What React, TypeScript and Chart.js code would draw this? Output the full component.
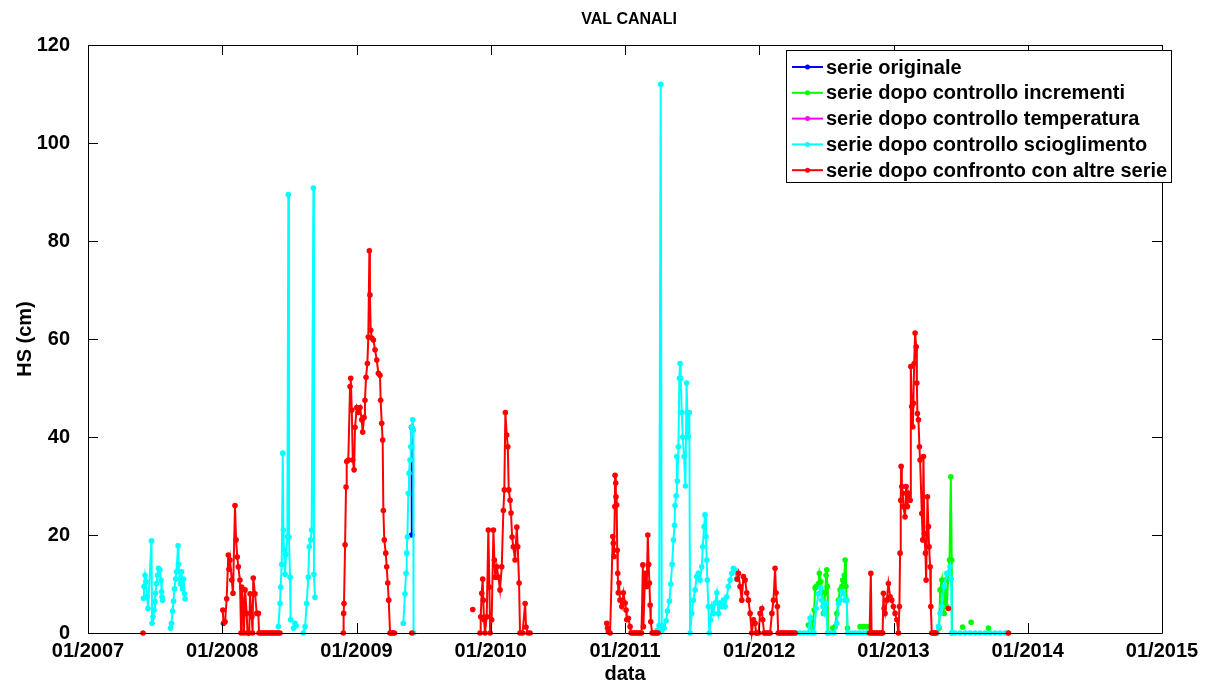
import React, { useEffect, useRef } from "react";
import { Chart, registerables } from "chart.js";

Chart.register(...registerables);

const chartTitle = "VAL CANALI";
const xAxisTitle = "data";
const yAxisTitle = "HS (cm)";
const xTickYears = [2007, 2008, 2009, 2010, 2011, 2012, 2013, 2014, 2015];
const yTickValues = [0, 20, 40, 60, 80, 100, 120];
const seriesNames = [
  "serie originale",
  "serie dopo controllo incrementi",
  "serie dopo controllo temperatura",
  "serie dopo controllo scioglimento",
  "serie dopo confronto con altre serie",
];
const seriesColors = ["#0000ff", "#00ff00", "#ff00ff", "#00ffff", "#ff0000"];

// serie originale (visible only where not covered)
const blueDates = [2009.41, 2009.412];
const blueHS: (number | null)[] = [42, 20];

// serie dopo controllo incrementi
const greenDates = [
  2012.366, 2012.384, 2012.395, 2012.409, 2012.416, 2012.424, 2012.441, 2012.448, 2012.459, 2012.466,
  2012.474, 2012.478, 2012.483, 2012.491, 2012.498, 2012.503, 2012.508, 2012.511, 2012.53,
  2012.548, 2012.565, 2012.578, 2012.59, 2012.602, 2012.615, 2012.622, 2012.628, 2012.634, 2012.64,
  2012.646, 2012.652, 2012.657, 2012.7,
  2012.751, 2012.776, 2012.801, 2013.0,
  2013.34, 2013.347, 2013.36, 2013.367, 2013.377, 2013.385, 2013.397, 2013.409, 2013.417, 2013.427,
  2013.434, 2013.436, 2013.48, 2013.515, 2013.55, 2013.578, 2013.65, 2013.707,
];
const greenHS: (number | null)[] = [
  1.6, 3, 1, 4.7, 9.2, 9.5, 10.1, 12.2, 10.5, 8.4,
  6.7, 4, 6, 8.2, 11.8, 12.9, 9.5, 0, null,
  1, 1.3, 4, 6.7, 8.8, 9.5, 10.8, 10.5, 11.8, 14.9,
  9.5, 6.7, 1, null,
  1.3, 1.3, 1.3, null,
  1, 8.8, 10.8, 6, 4, 10.8, 5.4, 12.2, 14.9, 31.9,
  14.9, 0, null, 1.2, null, 2.2, null, 1,
];

// serie dopo controllo temperatura (fully covered)
const magentaDates: number[] = [];
const magentaHS: (number | null)[] = [];

// serie dopo controllo scioglimento
const cyanDates = [
  2007.413, 2007.417, 2007.425, 2007.432, 2007.44, 2007.447, 2007.473, 2007.477, 2007.484, 2007.492,
  2007.499, 2007.503, 2007.51, 2007.518, 2007.525, 2007.536, 2007.544, 2007.548, 2007.551, 2007.555,
  2007.585,
  2007.615, 2007.622, 2007.63, 2007.637, 2007.644, 2007.652, 2007.659, 2007.671, 2007.674, 2007.682,
  2007.689, 2007.697, 2007.704, 2007.712, 2007.719, 2007.723, 2008.0,
  2008.418, 2008.43, 2008.435, 2008.443, 2008.451, 2008.455, 2008.46, 2008.468, 2008.475, 2008.485,
  2008.492, 2008.497, 2008.505, 2008.509, 2008.52, 2008.531, 2008.542, 2008.55, 2008.58,
  2008.604, 2008.617, 2008.629, 2008.641, 2008.648, 2008.659, 2008.666, 2008.679, 2008.683, 2008.691,
  2009.0,
  2009.349, 2009.361, 2009.369, 2009.374, 2009.379, 2009.386, 2009.391, 2009.399, 2009.404, 2009.411,
  2009.419, 2009.423, 2009.425, 2010.5,
  2011.239, 2011.254, 2011.266, 2011.274, 2011.284, 2011.291, 2011.306, 2011.316, 2011.331, 2011.341,
  2011.351, 2011.361, 2011.369, 2011.373, 2011.381, 2011.386, 2011.39, 2011.398, 2011.405, 2011.41,
  2011.415, 2011.423, 2011.43, 2011.44, 2011.45, 2011.459, 2011.464, 2011.471, 2011.479, 2011.485,
  2011.497, 2011.509, 2011.522, 2011.534, 2011.546, 2011.559, 2011.572, 2011.579, 2011.589, 2011.596,
  2011.603, 2011.609, 2011.613, 2011.621, 2011.628, 2011.638, 2011.646, 2011.658, 2011.671, 2011.684,
  2011.696, 2011.708, 2011.721, 2011.733, 2011.746, 2011.758, 2011.77, 2011.783, 2011.795, 2011.807,
  2011.82, 2011.831, 2012.0,
  2012.275, 2012.304, 2012.334, 2012.364, 2012.379, 2012.394, 2012.409, 2012.424, 2012.441, 2012.459,
  2012.466, 2012.474, 2012.487, 2012.498, 2012.509, 2012.528, 2012.558, 2012.578, 2012.59, 2012.602,
  2012.617, 2012.628, 2012.64, 2012.652, 2012.658, 2012.684, 2012.714, 2012.744, 2012.774, 2012.804,
  2012.826, 2013.0,
  2013.325, 2013.335, 2013.347, 2013.36, 2013.377, 2013.397, 2013.409, 2013.421, 2013.429, 2013.434,
  2013.459, 2013.496, 2013.534, 2013.571, 2013.608, 2013.645, 2013.683, 2013.72, 2013.757, 2013.794,
  2013.831, 2013.854,
];
const cyanHS: (number | null)[] = [
  7.1, 9.5, 11.8, 10.5, 7.4, 5.0, 18.8, 2.0, 3.3, 4.7,
  6.4, 8.1, 10.1, 11.8, 13.2, 12.9, 10.8, 8.4, 7.4, 6.7,
  null,
  1.0, 2.0, 4.5, 6.5, 9.0, 11.0, 12.5, 17.8, 14.0, 11.0,
  10.0, 12.5, 9.0, 11.0, 8.0, 7.0, null,
  1.3, 6, 9.4, 14, 36.7, 21, 17, 12, 16, 19.6,
  89.5, 19.6, 11.4, 2.7, null, 1.0, 2.0, 1.5, null,
  0, 1.3, 6, 11.4, 17.6, 19, 21, 90.8, 12, 7.3,
  null,
  2, 8, 12.2, 16.3, 19.6, 28.5, 32.6, 35.3, 38, 42,
  43.5, 41.4, 0, null,
  0.5, 1.5, 112, 0.5, 1.5, 1, 2.5, 4.5, 6.5, 10,
  14, 19, 22, 26, 28, 36, 31, 38, 52, 55,
  52, 45, 40, 36, 30, 51, 45, 40, 45, 0,
  4, 6.7, 8.8, 11.5, 12.2, 10.8, 13.5, 17.6, 21.7, 24.1,
  19.7, 14.9, 10.8, 5.4, 0, 2.7, 5.4, 4, 6.1, 8.2,
  4, 6.1, 5.4, 6.7, 5.4, 7.4, 9.5, 10.8, 12.2, 13.2,
  12.9, 11, null,
  0, 0, 0, 0, 3, 0, 0, 5, 8, 9.2,
  6.7, 5.4, 4, 6, 0, 0, 0, 2, 6, 6.7,
  8.5, 8, 6.7, 6.7, 0, 0, 0, 0, 0, 0,
  0, null,
  0, 1.3, 4, 5.4, 9.5, 12.2, 12.2, 13.5, 11, 0,
  0, 0, 0, 0, 0, 0, 0, 0, 0, 0,
  0, 0,
];

// serie dopo confronto con altre serie
const redDates = [
  2007.41, 2007.7,
  2008.004, 2008.009, 2008.021, 2008.033, 2008.045, 2008.05, 2008.058, 2008.071, 2008.08, 2008.095,
  2008.103, 2008.112, 2008.12, 2008.132, 2008.14, 2008.145, 2008.157, 2008.162, 2008.17, 2008.182,
  2008.188, 2008.195, 2008.201, 2008.207, 2008.22, 2008.226, 2008.231, 2008.244, 2008.257, 2008.269,
  2008.274, 2008.285, 2008.296, 2008.308, 2008.319, 2008.33, 2008.341, 2008.352, 2008.363, 2008.375,
  2008.386, 2008.397, 2008.408, 2008.419, 2008.43, 2008.6,
  2008.902, 2008.904, 2008.907, 2008.915, 2008.922, 2008.927, 2008.939, 2008.952, 2008.957, 2008.965,
  2008.972, 2008.982, 2008.989, 2009.002, 2009.014, 2009.026, 2009.039, 2009.046, 2009.056, 2009.063,
  2009.071, 2009.081, 2009.088, 2009.096, 2009.1, 2009.106, 2009.114, 2009.126, 2009.138, 2009.151,
  2009.163, 2009.175, 2009.18, 2009.188, 2009.195, 2009.2, 2009.207, 2009.218, 2009.225, 2009.233,
  2009.24, 2009.25, 2009.258, 2009.265, 2009.274, 2009.283, 2009.35,
  2009.412, 2009.6, 2009.866, 2009.9,
  2009.92, 2009.925, 2009.933, 2009.94, 2009.944, 2009.95, 2009.957, 2009.97, 2009.982, 2009.99,
  2009.995, 2010.007, 2010.02, 2010.027, 2010.034, 2010.045, 2010.057, 2010.069, 2010.082, 2010.094,
  2010.101, 2010.109, 2010.119, 2010.127, 2010.134, 2010.144, 2010.151, 2010.159, 2010.168, 2010.181,
  2010.194, 2010.201, 2010.211, 2010.218, 2010.237, 2010.256, 2010.263, 2010.278, 2010.293, 2010.6,
  2010.864, 2010.87, 2010.876, 2010.889, 2010.909, 2010.913, 2010.918, 2010.924, 2010.926, 2010.931,
  2010.933, 2010.938, 2010.942, 2010.946, 2010.95, 2010.955, 2010.963, 2010.976, 2010.988, 2011.001,
  2011.008, 2011.013, 2011.025, 2011.038, 2011.045, 2011.057, 2011.068, 2011.079, 2011.09, 2011.101,
  2011.112, 2011.123, 2011.133, 2011.137, 2011.15, 2011.162, 2011.17, 2011.176, 2011.182, 2011.187,
  2011.192, 2011.202, 2011.213, 2011.224, 2011.235, 2011.246, 2011.5,
  2011.835, 2011.845, 2011.857, 2011.87, 2011.882, 2011.895, 2011.907, 2011.919, 2011.932, 2011.944,
  2011.957, 2011.969, 2011.976, 2011.984, 2011.995, 2012.006, 2012.019, 2012.026, 2012.036, 2012.047,
  2012.058, 2012.069, 2012.081, 2012.094, 2012.106, 2012.118, 2012.125, 2012.135, 2012.141, 2012.152,
  2012.163, 2012.174, 2012.185, 2012.196, 2012.207, 2012.218, 2012.23, 2012.241, 2012.252, 2012.267,
  2012.5,
  2012.822, 2012.831, 2012.837, 2012.846, 2012.856, 2012.867, 2012.878, 2012.889, 2012.9, 2012.91,
  2012.919, 2012.925, 2012.93, 2012.937, 2012.95, 2012.962, 2012.975, 2012.987, 2012.999, 2013.012,
  2013.025, 2013.037, 2013.044, 2013.049, 2013.054, 2013.057, 2013.062, 2013.069, 2013.074, 2013.086,
  2013.094, 2013.104, 2013.111, 2013.124, 2013.129, 2013.136, 2013.144, 2013.148, 2013.154, 2013.161,
  2013.169, 2013.174, 2013.178, 2013.186, 2013.193, 2013.198, 2013.211, 2013.218, 2013.223, 2013.23,
  2013.238, 2013.243, 2013.253, 2013.26, 2013.265, 2013.273, 2013.278, 2013.285, 2013.294, 2013.302,
  2013.31, 2013.317, 2013.35, 2013.409, 2013.6, 2013.856,
];
const redHS: (number | null)[] = [
  0, null,
  4.7, 2.0, 2.3, 7.0, 15.9, 13, 14.9, 10.8, 8.1, 26,
  19, 15.5, 13.5, 10.8, 0, 9.4, 6, 0, 8.8, 4,
  0, 0, 0, 8, 3.3, 0, 11.2, 8, 4, 4,
  0, 0, 0, 0, 0, 0, 0, 0, 0, 0,
  0, 0, 0, 0, 0, null,
  0, 4, 6, 18, 29.8, 35, 35.3, 50.3, 52, 45.5,
  35.3, 33.3, 42, 46, 45, 46, 43.5, 41, 44, 47.5,
  52.2, 55, 60.4, 78, 69, 61.8, 60.2, 59.8, 57.8, 55.7,
  53, 52.6, 47.5, 42.8, 39.4, 25, 19, 16.3, 13.5, 10.2,
  6.7, 0, 0, 0, 0, 0, null,
  0, null, 4.8, null,
  0, 3.3, 8.1, 11, 6.7, 2.7, 0, 3.3, 21, 9.4,
  0, 2.7, 21, 14.9, 11.4, 13.5, 11.4, 8.8, 13.5, 25,
  29.2, 45, 40.4, 38, 29.2, 27.1, 24.5, 19.6, 17.6, 14.9,
  21.6, 17.6, 10.2, 0, 0, 6, 1.2, 0, 0, null,
  2, 1, 0.3, 0, 19.7, 18.3, 15.6, 25.8, 32.2, 30.6,
  27.8, 26.1, 16.9, 12.2, 8.2, 10.2, 6.7, 5.4, 8.2, 6.1,
  4.7, 2.7, 3, 1.3, 0, 0, 0, 0, 0, 0,
  0, 0, 13.9, 1.3, 12.2, 9.5, 20, 14, 10.2, 5.7,
  2.3, 0, 0, 0, 0, 0, null,
  11, 12.2, 9.5, 6.7, 11.5, 10.8, 8.2, 6.7, 4, 0,
  2.7, 2, 0, 0, 0, 4, 5, 2.7, 0, 0,
  0, 0, 0, 4, 6.7, 13.2, 8.2, 5.4, 0, 0,
  0, 0, 0, 0, 0, 0, 0, 0, 0, 0,
  null,
  0, 12.2, 0, 0, 0, 0, 0, 0, 0, 0,
  0, 8.1, 5, 4, 6.7, 10.1, 7.4, 6.7, 5.4, 4,
  2.7, 0, 5.4, 16.3, 27.1, 34, 29.9, 28.5, 25.8, 23.7,
  29.9, 25.8, 28.5, 27.1, 54.4, 46.2, 42.1, 46.9, 55, 61.2,
  58.4, 51, 44.8, 43.5, 38, 35.3, 24.4, 19, 36, 20.3,
  16.3, 10.8, 27.8, 21.7, 17.6, 13.5, 5.4, 0, 0, 0,
  0, 0, null, 5, null, 0,
];

const FONT = "'Liberation Sans', Arial, Helvetica, sans-serif";

const toPoints = (dates: number[], hs: (number | null)[]) =>
  dates.map((d, i) => ({ x: d, y: hs[i] }));

const titlePlugin = {
  id: "matlabTitle",
  afterDraw(chart: any) {
    const { ctx, chartArea } = chart;
    ctx.save();
    ctx.fillStyle = "#000";
    ctx.font = `bold 16px ${FONT}`;
    ctx.textAlign = "center";
    ctx.textBaseline = "middle";
    ctx.fillText(chartTitle, (chartArea.left + chartArea.right) / 2 + 4, 20);
    ctx.restore();
  },
};

const framePlugin = {
  id: "matlabFrame",
  afterDatasetsDraw(chart: any) {
    const { ctx, chartArea, scales } = chart;
    const { left, right, top, bottom } = chartArea;
    const tick = 10;
    ctx.save();
    ctx.strokeStyle = "#000";
    ctx.lineWidth = 1;
    ctx.beginPath();
    ctx.rect(Math.round(left) + 0.5, Math.round(top) + 0.5, Math.round(right - left), Math.round(bottom - top));
    xTickYears.forEach((v) => {
      const px = Math.round(scales.x.getPixelForValue(v)) + 0.5;
      ctx.moveTo(px, bottom);
      ctx.lineTo(px, bottom - tick);
      ctx.moveTo(px, top);
      ctx.lineTo(px, top + tick);
    });
    yTickValues.forEach((v) => {
      const py = Math.round(scales.y.getPixelForValue(v)) + 0.5;
      ctx.moveTo(left, py);
      ctx.lineTo(left + tick, py);
      ctx.moveTo(right, py);
      ctx.lineTo(right - tick, py);
    });
    ctx.stroke();
    ctx.restore();
  },
};

const legendPlugin = {
  id: "matlabLegend",
  afterDraw(chart: any) {
    const { ctx } = chart;
    const bx = 786;
    const by = 50;
    const bw = 385;
    const bh = 132;
    ctx.save();
    ctx.fillStyle = "#fff";
    ctx.fillRect(bx, by, bw, bh);
    ctx.strokeStyle = "#000";
    ctx.lineWidth = 1;
    ctx.strokeRect(bx + 0.5, by + 0.5, bw, bh);
    ctx.beginPath();
    ctx.rect(bx + 1, by + 1, bw - 3, bh - 1);
    ctx.clip();
    seriesNames.forEach((name, i) => {
      const cy = by + 17 + i * 25.8;
      ctx.strokeStyle = seriesColors[i];
      ctx.lineWidth = 2;
      ctx.beginPath();
      ctx.moveTo(792, cy);
      ctx.lineTo(823, cy);
      ctx.stroke();
      ctx.fillStyle = seriesColors[i];
      ctx.beginPath();
      ctx.arc(807.5, cy, 2.5, 0, Math.PI * 2);
      ctx.fill();
      ctx.fillStyle = "#000";
      ctx.font = `bold 20px ${FONT}`;
      ctx.textBaseline = "middle";
      ctx.textAlign = "left";
      ctx.fillText(name, 826, cy + 1);
    });
    ctx.restore();
  },
};

export default function App() {
  const canvasRef = useRef<HTMLCanvasElement | null>(null);

  useEffect(() => {
    if (!canvasRef.current) return;
    const allDates = [blueDates, greenDates, magentaDates, cyanDates, redDates];
    const allHS = [blueHS, greenHS, magentaHS, cyanHS, redHS];
    const drawOrder = [5, 4, 3, 2, 1];
    const datasets = seriesNames.map((name, i) => ({
      label: name,
      data: toPoints(allDates[i], allHS[i]),
      borderColor: seriesColors[i],
      backgroundColor: seriesColors[i],
      pointBackgroundColor: seriesColors[i],
      pointBorderWidth: 0,
      pointRadius: 2.8,
      pointHoverRadius: 0,
      borderWidth: 2,
      spanGaps: false,
      tension: 0,
      clip: false as any,
      order: drawOrder[i],
    }));

    const chart = new Chart(canvasRef.current, {
      type: "line",
      data: { datasets },
      options: {
        animation: false,
        responsive: false,
        events: [],
        layout: { padding: { left: 0, right: 46, top: 45, bottom: 0 } },
        plugins: {
          legend: { display: false },
          tooltip: { enabled: false },
          title: { display: false },
        },
        scales: {
          x: {
            type: "linear",
            min: 2007,
            max: 2015,
            grid: { display: false, drawTicks: false },
            border: { display: false },
            ticks: {
              stepSize: 1,
              autoSkip: false,
              maxRotation: 0,
              padding: 6,
              color: "#000",
              font: { family: FONT, size: 20, weight: "bold" },
              callback: (v: any) => "01/" + v,
            },
            title: {
              display: true,
              text: xAxisTitle,
              color: "#000",
              font: { family: FONT, size: 20, weight: "bold", lineHeight: 1 },
              padding: { top: 0, bottom: 0 },
            },
            afterFit: (s: any) => {
              s.height = 51;
            },
          },
          y: {
            type: "linear",
            min: 0,
            max: 120,
            grid: { display: false, drawTicks: false },
            border: { display: false },
            ticks: {
              stepSize: 20,
              padding: 18,
              color: "#000",
              font: { family: FONT, size: 20, weight: "bold" },
            },
            title: {
              display: true,
              text: yAxisTitle,
              color: "#000",
              font: { family: FONT, size: 20, weight: "bold", lineHeight: 1 },
              padding: { top: 15, bottom: 0 },
            },
            afterFit: (s: any) => {
              s.width = 88;
            },
          },
        },
      } as any,
      plugins: [framePlugin, legendPlugin, titlePlugin],
    });
    return () => chart.destroy();
  }, []);

  return (
    <div style={{ position: "absolute", left: 0, top: 0, width: 1208, height: 684, background: "#fff" }}>
      <canvas ref={canvasRef} width={1208} height={684} style={{ display: "block" }} />
    </div>
  );
}
